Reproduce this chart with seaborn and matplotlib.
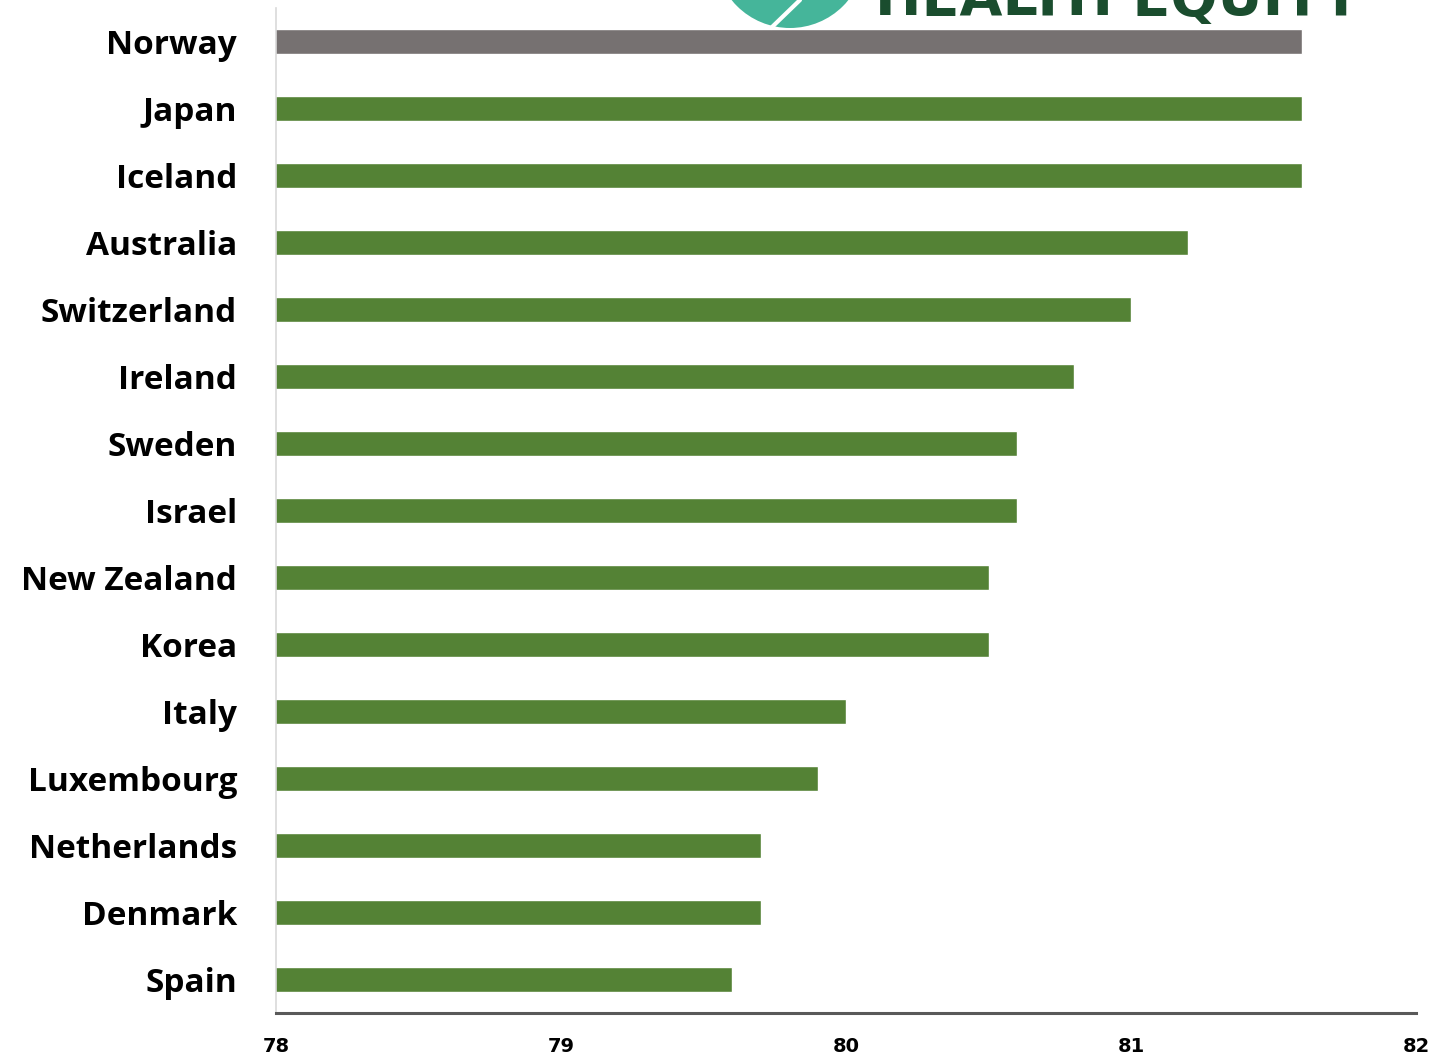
import seaborn as sns
import matplotlib.pyplot as plt
import matplotlib.patches as mpatches

# Datos del gráfico
paises = ['Norway', 'Japan', 'Iceland', 'Australia', 'Switzerland', 'Ireland',
          'Sweden', 'Israel', 'New Zealand', 'Korea', 'Italy', 'Luxembourg',
          'Netherlands', 'Denmark', 'Spain']
valores = [81.6, 81.6, 81.6, 81.2, 81.0, 80.8, 80.6, 80.6, 80.5, 80.5,
           80.0, 79.9, 79.7, 79.7, 79.6]
ticks_x = [78, 79, 80, 81, 82]

verde = '#548235'
gris = '#767171'
colores = {p: (gris if p == 'Norway' else verde) for p in paises}

sns.set_style('white')
plt.rcParams['font.family'] = ['Open Sans', 'DejaVu Sans']

fig = plt.figure(figsize=(14.46, 10.56), dpi=100)
ax = fig.add_axes([276 / 1446, 1 - 1013 / 1056, 1140 / 1446, 1005 / 1056])

sns.barplot(x=valores, y=paises, hue=paises, palette=colores, legend=False,
            orient='h', width=0.37, saturation=1, ax=ax)

ax.set_xlim(78, 82)
ax.set_ylim(14.5, -0.5)
ax.set_xticks(ticks_x)
ax.set_xticklabels([str(t) for t in ticks_x], fontsize=14, fontweight='bold',
                   family='DejaVu Sans')
ax.tick_params(axis='x', length=0, pad=17, labelcolor='black')
ax.tick_params(axis='y', length=0, pad=28, labelsize=24, labelcolor='black')
for lbl in ax.get_yticklabels():
    lbl.set_fontweight('bold')
ax.set_xlabel('')
ax.set_ylabel('')

# Ejes
sns.despine(ax=ax, top=True, right=True)
ax.spines['bottom'].set_color('#595959')
ax.spines['bottom'].set_linewidth(2.2)
ax.spines['left'].set_color('#d9d9d9')
ax.spines['left'].set_linewidth(1.2)

# Logo cortado arriba
W, H = 1446, 1056
circulo = mpatches.Ellipse((790 / W, 1 + 47 / H), 150 / W, 150 / H,
                           transform=fig.transFigure, facecolor='#45b59a',
                           edgecolor='none', zorder=0)
fig.patches.append(circulo)
fig.add_artist(plt.Line2D([771 / W, 800 / W], [1 - 28 / H, 1.0], color='white',
                          linewidth=3, transform=fig.transFigure))
fig.text(875 / W, 1 - 15 / H, 'HEALTH EQUITY', color='#1a4d2e', fontsize=40,
         fontweight='bold', family='DejaVu Sans', va='baseline', ha='left')

plt.savefig('out.png', dpi=100)
